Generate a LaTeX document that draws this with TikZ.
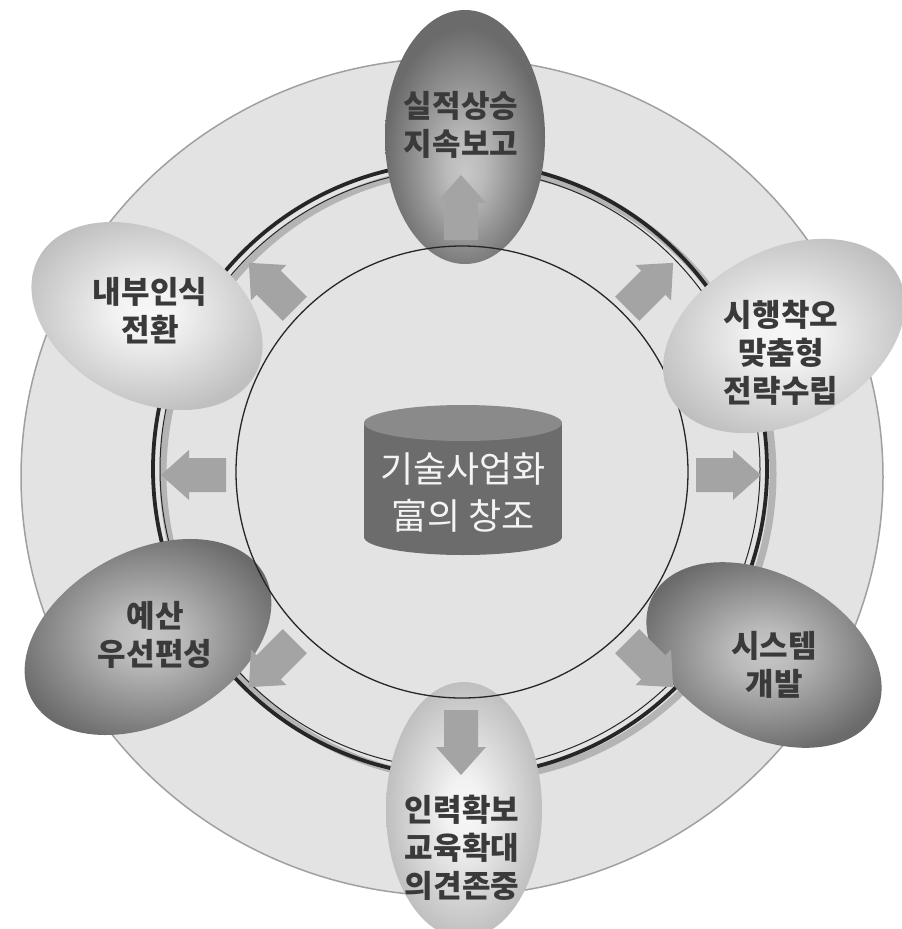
\documentclass[tikz,border=0pt]{standalone}
\usepackage{fontspec}
\newfontfamily\kr{Noto Sans CJK KR}
\usetikzlibrary{shapes.geometric}
\definecolor{discfill}{HTML}{E3E3E3}
\definecolor{discedge}{HTML}{A0A0A0}
\definecolor{ringdark}{HTML}{262626}
\definecolor{ringshade}{HTML}{B4B4B4}
\definecolor{arrowfill}{HTML}{A4A4A4}
\definecolor{labelgray}{HTML}{3A3A3A}
\definecolor{cylbody}{HTML}{6C6C6C}
\definecolor{cyltop}{HTML}{8A8A8A}
\definecolor{cyltext}{HTML}{F4F4F4}
\pgfdeclareradialshading{lightellshade}{\pgfpoint{0bp}{0bp}}{color(0bp)=(black!3); color(6bp)=(black!5); color(25bp)=(black!25); color(50bp)=(black!25)}
\pgfdeclareradialshading{darkellshade}{\pgfpoint{0bp}{0bp}}{color(0bp)=(black!22); color(6bp)=(black!27); color(25bp)=(black!58); color(50bp)=(black!58)}
\pgfdeclareradialshading{darktopshade}{\pgfpoint{0bp}{-7bp}}{color(0bp)=(black!22); color(6bp)=(black!27); color(25bp)=(black!58); color(50bp)=(black!58)}
\begin{document}
\begin{tikzpicture}[x=1pt,y=-1pt,
  ellbase/.style={ellipse, inner sep=0pt, outer sep=0pt, draw=none},
  darkell/.style={ellbase, shade, shading=darkellshade},
  darktop/.style={ellbase, shade, shading=darktopshade},
  lightell/.style={ellbase, shade, shading=lightellshade},
  lbl/.style={font=\kr\bfseries\fontsize{31}{38}\selectfont, text=labelgray, align=center, inner sep=0pt},
  corelbl/.style={font=\kr\fontsize{36}{47}\selectfont, text=cyltext, align=center, inner sep=0pt},
  blockarrow/.style={fill=arrowfill},
]
\useasboundingbox (0,0) rectangle (902,929);
% outer disc
\path[fill=discfill, draw=discedge, line width=1.5pt] (452,477) ellipse [x radius=431, y radius=419];
% ring
\draw[ringshade, line width=7pt] (468,474) circle [radius=305];
\draw[ringdark, line width=3.8pt] (460,469) circle [radius=307];
\draw[ringdark, line width=1pt] (460,469) circle [radius=300];
% ellipses under the inner circle
\node[darktop, minimum width=160pt, minimum height=254pt] (eTop) at (465,137) {};
\node[lightell, minimum width=156pt, minimum height=256pt] (eBottom) at (464,810) {};
\node[darkell, minimum width=264pt, minimum height=172pt, rotate=28] (eBudget) at (148,637) {};
\node[lightell, minimum width=246pt, minimum height=168pt, rotate=-28] (eAware) at (147,316) {};
% inner circle
\draw[ringdark, line width=1.3pt] (462,472) circle [radius=226];
% ellipses over the inner circle
\node[lightell, minimum width=258pt, minimum height=172pt, rotate=28] (eTrial) at (784,336) {};
\node[darkell, minimum width=252pt, minimum height=162pt, rotate=-28] (eSystem) at (764,655) {};
% block arrows
\foreach \a in {0,45,...,315} {
  \fill[blockarrow, shift={(461,475)}, rotate=\a]
    (235,-17) -- (272,-17) -- (272,-25) -- (300,0) -- (272,25) -- (272,17) -- (235,17) -- cycle;
}
% central cylinder
\fill[cylbody] (364,423) rectangle (562,537);
\fill[cylbody] (463,537) ellipse [x radius=99, y radius=18];
\fill[cyltop] (463,423) ellipse [x radius=99, y radius=18];
\node[corelbl] (core) at (463,493) {기술사업화\\富의 창조};
% labels
\node[lbl] (tTop) at (461,125) {실적상승\\지속보고};
\node[lbl] (tAware) at (150,311) {내부인식\\전환};
\node[lbl] (tTrial) at (781,353) {시행착오\\맞춤형\\전략수립};
\node[lbl] (tSystem) at (774,665) {시스템\\개발};
\node[lbl] (tBottom) at (462,848) {인력확보\\교육확대\\의견존중};
\node[lbl] (tBudget) at (155,635) {예산\\우선편성};
\end{tikzpicture}
\end{document}
